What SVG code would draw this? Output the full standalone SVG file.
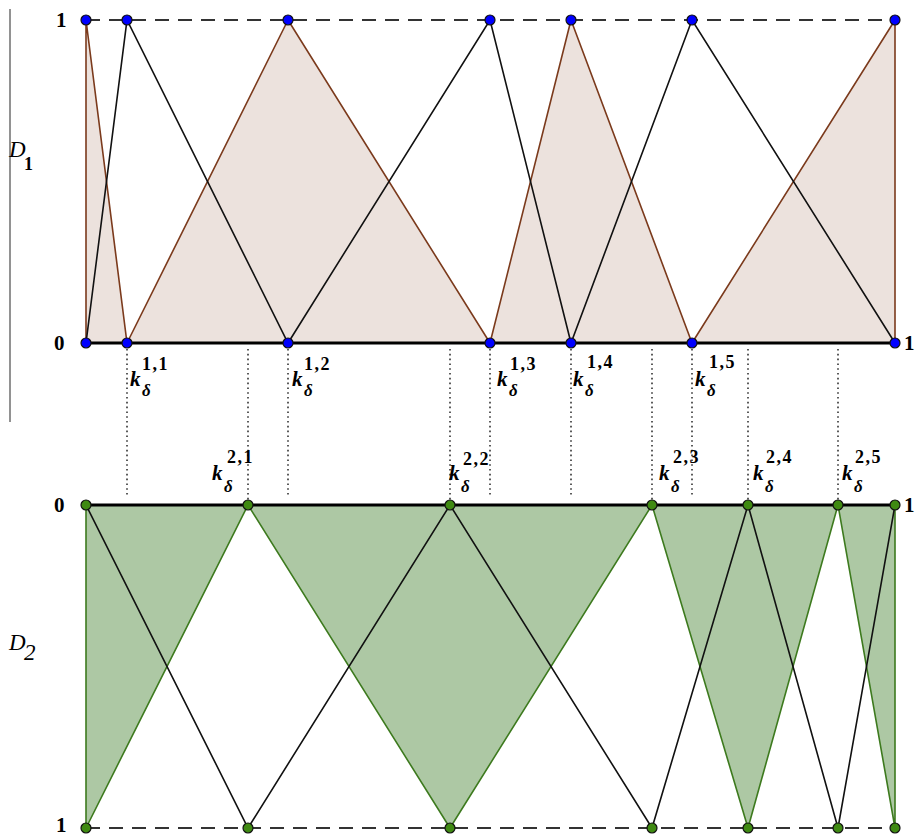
<svg xmlns="http://www.w3.org/2000/svg" width="917" height="837" viewBox="0 0 917 837">
<style>
.bfill{fill:#ece2dd;stroke:#7b3a1c;stroke-width:1.6;stroke-linejoin:round}
.gfill{fill:#adc8a4;stroke:#3d7a1e;stroke-width:1.6;stroke-linejoin:round}
.blk{fill:none;stroke:#111;stroke-width:1.6}
.axis{stroke:#000;stroke-width:3}
.dash{stroke:#333;stroke-width:2;stroke-dasharray:14,9}
.dot{stroke:#333;stroke-width:1.6;stroke-dasharray:1.6,3.2}
.bn{fill:#0000ff;stroke:#111;stroke-width:1.2}
.gn{fill:#3f8a12;stroke:#111;stroke-width:1.2}
text{font-family:"Liberation Serif","Times New Roman","DejaVu Serif",serif;fill:#000}
.num{font-weight:bold;font-size:21px}
.k{font-weight:bold;font-style:italic;font-size:21px}
.d{font-weight:bold;font-style:italic;font-size:17px}
.sup{font-weight:bold;font-size:18px;letter-spacing:1.5px}
.lab{font-style:italic;font-size:23px}
.sub{font-weight:bold;font-size:18px}
</style>
<line x1="10" y1="9" x2="10" y2="422" stroke="#777" stroke-width="1.6"/>

<g id="D1-shading">
<polygon class="bfill" points="86,20 86,343 127,343"/>
<polygon class="bfill" points="127,343 288,20 490,343"/>
<polygon class="bfill" points="490,343 571,20 692,343"/>
<polygon class="bfill" points="692,343 895,20 895,343"/>
</g>
<g id="D2-shading">
<polygon class="gfill" points="86,505 248,505 86,828"/>
<polygon class="gfill" points="248,505 652,505 450,828"/>
<polygon class="gfill" points="652,505 838,505 748,828"/>
<polygon class="gfill" points="838,505 895,505 895,828"/>
</g>

<g id="connectors">
<polyline class="blk" points="86,343 127,20 288,343 490,20 571,343 692,20 895,343"/>
<polyline class="blk" points="86,505 248,828 450,505 652,828 748,505 838,828 895,505"/>
<line class="dash" x1="86" y1="20" x2="895" y2="20"/>
<line class="axis" x1="86" y1="343" x2="895" y2="343"/>
<line class="axis" x1="86" y1="505" x2="895" y2="505"/>
<line class="dash" x1="86" y1="828" x2="895" y2="828"/>
<g id="dotted">
<line class="dot" x1="127" y1="349" x2="127" y2="497"/>
<line class="dot" x1="248" y1="349" x2="248" y2="505"/>
<line class="dot" x1="288" y1="349" x2="288" y2="497"/>
<line class="dot" x1="450" y1="349" x2="450" y2="505"/>
<line class="dot" x1="490" y1="349" x2="490" y2="497"/>
<line class="dot" x1="571" y1="349" x2="571" y2="497"/>
<line class="dot" x1="652" y1="349" x2="652" y2="505"/>
<line class="dot" x1="692" y1="349" x2="692" y2="497"/>
<line class="dot" x1="748" y1="349" x2="748" y2="505"/>
<line class="dot" x1="838" y1="349" x2="838" y2="505"/>
</g>
</g>

<g id="D1-nodes">
<circle class="bn" cx="86" cy="20" r="5"/>
<circle class="bn" cx="127" cy="20" r="5"/>
<circle class="bn" cx="288" cy="20" r="5"/>
<circle class="bn" cx="490" cy="20" r="5"/>
<circle class="bn" cx="571" cy="20" r="5"/>
<circle class="bn" cx="692" cy="20" r="5"/>
<circle class="bn" cx="895" cy="20" r="5"/>
<circle class="bn" cx="86" cy="343" r="5"/>
<circle class="bn" cx="127" cy="343" r="5"/>
<circle class="bn" cx="288" cy="343" r="5"/>
<circle class="bn" cx="490" cy="343" r="5"/>
<circle class="bn" cx="571" cy="343" r="5"/>
<circle class="bn" cx="692" cy="343" r="5"/>
<circle class="bn" cx="895" cy="343" r="5"/>
</g>
<g id="D2-nodes">
<circle class="gn" cx="86" cy="505" r="5"/>
<circle class="gn" cx="248" cy="505" r="5"/>
<circle class="gn" cx="450" cy="505" r="5"/>
<circle class="gn" cx="652" cy="505" r="5"/>
<circle class="gn" cx="748" cy="505" r="5"/>
<circle class="gn" cx="838" cy="505" r="5"/>
<circle class="gn" cx="895" cy="505" r="5"/>
<circle class="gn" cx="86" cy="828" r="5"/>
<circle class="gn" cx="248" cy="828" r="5"/>
<circle class="gn" cx="450" cy="828" r="5"/>
<circle class="gn" cx="652" cy="828" r="5"/>
<circle class="gn" cx="748" cy="828" r="5"/>
<circle class="gn" cx="838" cy="828" r="5"/>
<circle class="gn" cx="895" cy="828" r="5"/>
</g>

<g id="axis-labels">
<text class="num" x="56" y="27">1</text>
<text class="num" x="54" y="350">0</text>
<text class="num" x="904" y="350">1</text>
<text class="num" x="54" y="512">0</text>
<text class="num" x="904" y="512">1</text>
<text class="num" x="56" y="832" font-size="17">1</text>
<text class="lab" x="9" y="157">D</text><text class="sub" x="24" y="170">1</text>
<text class="lab" x="9" y="650">D</text><text class="lab" x="24" y="660" font-size="18">2</text>
</g>

<g id="k1-labels">
<text class="k" x="130" y="386">k</text><text class="d" x="142" y="396">δ</text><text class="sup" x="142" y="370">1,1</text>
<text class="k" x="292" y="386">k</text><text class="d" x="304" y="396">δ</text><text class="sup" x="304" y="370">1,2</text>
<text class="k" x="497" y="386">k</text><text class="d" x="509" y="396">δ</text><text class="sup" x="510" y="370">1,3</text>
<text class="k" x="573" y="386">k</text><text class="d" x="585" y="396">δ</text><text class="sup" x="587" y="368">1,4</text>
<text class="k" x="695" y="386">k</text><text class="d" x="707" y="396">δ</text><text class="sup" x="709" y="368">1,5</text>
</g>
<g id="k2-labels">
<text class="k" x="212" y="480">k</text><text class="d" x="224" y="492">δ</text><text class="sup" x="227" y="463">2,1</text>
<text class="k" x="449" y="480">k</text><text class="d" x="461" y="492">δ</text><text class="sup" x="463" y="465">2,2</text>
<text class="k" x="659" y="480">k</text><text class="d" x="671" y="492">δ</text><text class="sup" x="673" y="463">2,3</text>
<text class="k" x="753" y="480">k</text><text class="d" x="765" y="492">δ</text><text class="sup" x="766" y="463">2,4</text>
<text class="k" x="842" y="480">k</text><text class="d" x="854" y="492">δ</text><text class="sup" x="855" y="463">2,5</text>
</g>
</svg>
